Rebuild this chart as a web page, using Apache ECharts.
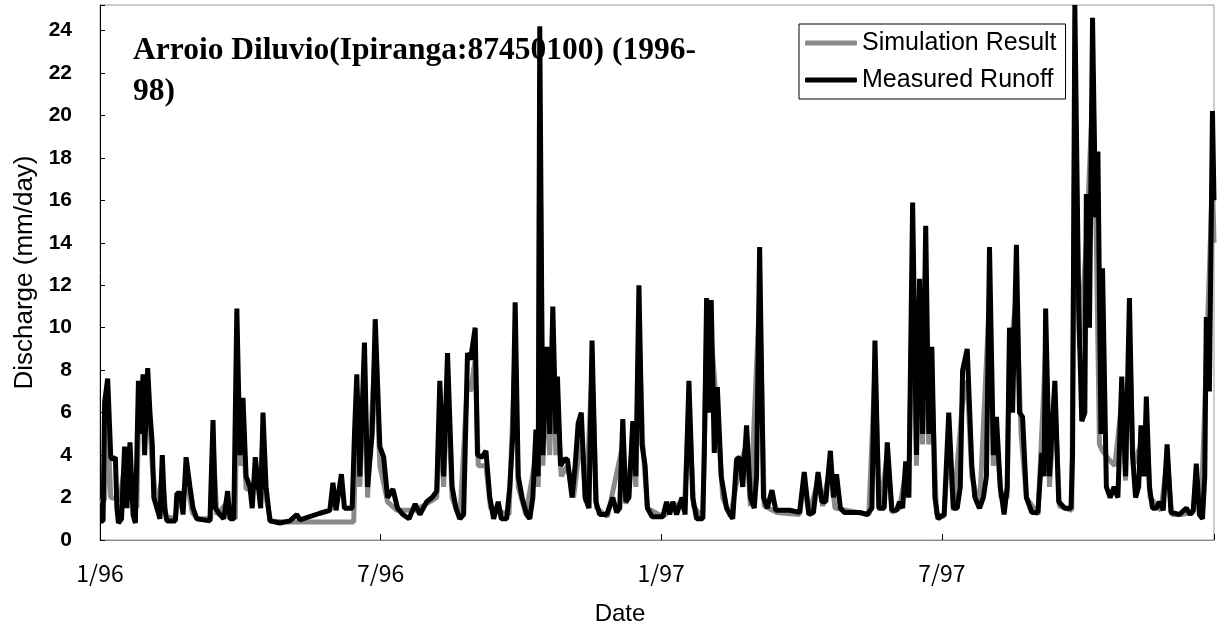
<!DOCTYPE html>
<html>
<head>
<meta charset="utf-8">
<title>Arroio Diluvio discharge</title>
<script src="https://cdn.jsdelivr.net/npm/echarts@6/dist/echarts.min.js"></script>
<style>
  html, body { margin: 0; padding: 0; background: #fff; }
  #chart { width: 1217px; height: 634px; }
</style>
</head>
<body>
<div id="chart"></div>
<script>
// x = days since 1 Jan 1996, y = discharge (mm/day)
const measured = [
  [0, 0.9], [2, 0.9], [3, 6.5], [5, 7.6], [7, 3.9], [8, 3.8], [10, 3.9], [11, 1.5], [12, 0.8],
  [14, 1.0], [16, 4.4], [17.5, 1.5], [19.5, 4.6], [21.5, 1.2], [23, 0.8],
  [25, 7.5], [26, 5.0], [28, 7.8], [29, 4.0], [31, 8.1], [32.5, 6.0], [34, 4.5], [35, 2.0],
  [37, 1.5], [39, 1.0], [40.5, 4.0], [42, 1.5], [43.5, 0.9], [49, 0.9], [50, 2.2], [52.5, 2.2],
  [54, 1.2], [56, 3.9], [58.5, 2.5], [60.5, 1.5], [63, 1.0], [71.5, 0.9], [73.5, 5.65], [75, 1.5],
  [78, 1.2], [80.5, 1.0], [83, 2.3], [84.5, 1.0], [87, 1.0], [89, 10.9], [91, 4.0], [93, 6.7],
  [95, 3.0], [97.5, 2.5], [99, 1.5], [101, 3.9], [103, 2.5], [104.5, 1.5], [106, 6.0], [108, 2.5],
  [110.5, 0.9], [117, 0.8], [123.5, 0.9], [128, 1.2], [130, 0.95], [143, 1.26], [149.5, 1.4],
  [151.5, 2.7], [153.5, 1.4], [157, 3.1], [159, 1.5], [164, 1.5], [165.5, 5.0], [167, 7.8],
  [169, 3.0], [172, 9.3], [174, 2.5], [177, 5.0], [179, 10.4], [182, 4.4], [184.5, 3.9], [187, 2.0],
  [190.5, 2.4], [193.5, 1.5], [197, 1.2], [201, 1.0], [205, 1.7], [208, 1.2], [212.5, 1.8],
  [216, 2.0], [219, 2.3], [221, 7.5], [223.5, 3.0], [226, 8.8], [229, 2.5], [231.5, 1.5], [234, 1.0],
  [236.5, 1.2], [239, 8.8], [241, 8.5], [244, 10.0], [245.5, 4.0], [248.5, 3.9], [251, 4.2],
  [253.5, 2.0], [256, 1.0], [259, 1.8], [261, 1.0], [264.5, 1.0], [266.5, 2.5], [268.5, 5.0],
  [270, 11.2], [272, 3.0], [274.5, 2.0], [277.5, 1.2], [279.5, 1.0], [281.5, 2.0], [283.5, 5.2],
  [285, 3.0], [286, 24.2], [288, 4.0], [290.5, 9.1], [292.5, 5.0], [294.5, 11.0], [296.5, 5.0],
  [297.5, 7.7], [299.5, 3.5], [302, 3.8], [304, 3.8], [307, 2.0], [309, 3.5], [311, 5.5], [313, 6.0],
  [315.5, 2.0], [318, 1.5], [320, 9.4], [322.5, 1.8], [325, 1.2], [329.5, 1.2], [333.5, 2.0],
  [336, 1.3], [338, 1.5], [340, 5.7], [342, 1.8], [344, 2.0], [346.5, 5.6], [348.5, 3.0],
  [350.5, 12.0], [352.5, 4.5], [354.5, 3.5], [356, 1.5], [359, 1.1], [366, 1.1], [368.5, 1.8],
  [370.5, 1.2], [372.5, 1.8], [375, 1.2], [378.5, 2.0], [380.5, 1.2], [383, 7.5], [385.5, 2.0],
  [388, 1.0], [392, 1.0], [393, 4.0], [394.5, 11.4], [396.5, 6.0], [397.5, 11.3], [399.5, 4.1],
  [401.5, 7.2], [404, 3.0], [407.5, 1.5], [411.5, 1.0], [414, 3.8], [416, 3.9], [418, 2.5],
  [420.5, 5.4], [423, 2.0], [425.5, 1.5], [427, 3.0], [429, 13.8], [431.5, 2.0], [434, 1.5],
  [437, 2.35], [439.5, 1.4], [448.5, 1.4], [455, 1.3], [458, 3.2], [461, 1.2], [464, 1.3],
  [467, 3.2], [469.5, 1.8], [472, 1.8], [475, 4.2], [477, 2.0], [479, 3.1], [481.5, 1.5],
  [484, 1.3], [494, 1.3], [499, 1.2], [502, 1.5], [504, 9.4], [506.5, 1.5], [510, 1.5], [512, 4.6],
  [515, 1.4], [518, 1.4], [520, 1.8], [522, 1.5], [524, 3.7], [526, 2.0], [528.5, 15.9], [531, 4.0],
  [533, 12.3], [535, 5.0], [537, 14.8], [539, 5.0], [541, 9.1], [543, 2.0], [545, 1.0], [549, 1.2],
  [552, 6.0], [555, 1.5], [557.5, 1.5], [559.5, 2.5], [561, 8.0], [564, 9.0], [567, 3.5], [569, 2.0],
  [572, 1.5], [574.5, 2.0], [576.5, 3.0], [578.5, 13.8], [581, 4.0], [583, 5.8], [585.5, 2.5],
  [588, 1.2], [590, 2.5], [591.5, 10.0], [593.5, 6.0], [596, 13.9], [598, 6.0], [600, 5.8],
  [602.5, 2.0], [606, 1.3], [610, 1.3], [612.5, 4.1], [614, 3.0], [615, 10.9], [617.5, 3.0],
  [621, 7.5], [623.5, 1.8], [627.5, 1.5], [631.5, 1.5], [632.5, 4.0], [634, 25.2], [636.5, 11.0],
  [638.5, 5.6], [640.5, 6.0], [641.5, 16.3], [643.5, 10.0], [645.5, 24.6], [647.5, 15.2],
  [649, 18.3], [651, 5.0], [652, 12.8], [654.5, 2.5], [657, 2.0], [659.5, 2.5], [662, 2.0],
  [664.5, 7.7], [667, 3.0], [669.5, 11.4], [671.5, 4.0], [673.5, 2.0], [675.5, 2.5], [677, 5.4],
  [679, 3.0], [680.5, 6.75], [682.5, 2.5], [684.5, 1.5], [687, 1.5], [689, 1.8], [691.5, 1.4],
  [694, 4.5], [696.5, 1.3], [702, 1.2], [706.5, 1.5], [709, 1.2], [711, 1.4], [713, 3.6], [715, 1.2],
  [717, 1.0], [718.5, 3.0], [719.5, 10.5], [721.5, 7.0], [723.5, 20.2], [724.5, 16.0]
];

const simulated = [
  [0, 1.8], [3, 1.9], [5, 5.5], [7, 2.0], [13, 1.9], [16, 3.5], [18, 2.0], [22, 1.9], [24, 1.5],
  [25, 5.5], [28, 6.5], [31, 7.0], [34, 3.5], [37, 1.5], [40.5, 3.0], [43, 1.1], [49, 1.0], [51, 2.0],
  [53, 1.5], [56, 3.0], [60, 1.3], [63, 1.0], [72, 1.0], [73.5, 4.5], [76, 1.2], [83, 1.8], [85, 1.1],
  [88, 1.0], [89, 9.0], [91, 3.5], [93, 5.5], [95, 2.4], [99, 2.4], [101, 2.5], [104, 2.4], [106, 5.0],
  [108, 2.0], [111, 0.9], [120, 0.85], [165, 0.85], [167, 6.5], [169, 2.5], [172, 8.0], [174, 2.0],
  [179, 9.0], [182, 3.5], [187, 1.8], [193, 1.4], [205, 1.4], [219, 2.0], [221, 6.0], [223.5, 2.5],
  [226, 7.5], [229, 2.0], [234, 1.0], [239, 7.5], [241, 7.0], [244, 8.5], [246, 3.5], [251, 3.5],
  [254, 1.5], [266, 1.2], [270, 9.0], [272, 2.5], [277, 1.2], [283.5, 4.0], [285, 2.5], [286, 20.0],
  [288, 3.5], [290.5, 7.5], [292.5, 4.0], [294.5, 9.0], [296.5, 4.0], [297.5, 6.5], [300, 3.0],
  [304, 3.5], [308, 2.0], [313, 5.0], [316, 1.8], [320, 8.0], [323, 1.5], [330, 1.1], [340, 4.5],
  [342, 1.7], [346.5, 4.5], [348.5, 2.5], [350.5, 10.0], [353, 4.5], [356, 1.5], [366, 1.1],
  [378, 1.8], [380, 1.4], [383, 6.5], [386, 1.6], [392, 1.0], [394.5, 9.5], [397.5, 9.5],
  [401.5, 6.0], [405, 2.0], [410, 1.1], [416, 3.5], [420.5, 4.5], [423, 1.6], [429, 11.5],
  [432, 1.6], [440, 1.3], [455, 1.2], [458, 2.8], [461, 1.2], [467, 2.8], [470, 1.6], [475, 3.5],
  [478, 1.5], [500, 1.2], [504, 8.0], [507, 1.4], [512, 4.0], [515, 1.3], [520, 1.5], [524, 3.2],
  [526, 2.0], [528.5, 13.0], [531, 3.5], [533, 10.0], [535, 4.5], [537, 12.0], [539, 4.5],
  [541, 7.5], [544, 1.2], [549, 1.1], [552, 5.0], [555, 1.4], [561, 6.5], [564, 7.5], [567, 3.0],
  [572, 1.5], [578.5, 11.5], [581, 3.5], [583, 5.0], [586, 2.0], [590, 2.0], [591.5, 8.5],
  [596, 11.5], [599, 5.0], [602.5, 2.0], [610, 1.2], [615, 9.0], [617.5, 2.5], [621, 6.5],
  [624, 1.6], [632, 1.4], [634, 21.0], [637, 9.0], [641.5, 14.0], [645.5, 21.0], [648, 14.0],
  [650, 4.5], [652, 4.2], [656, 3.8], [660, 3.5], [664.5, 6.5], [667, 2.8], [669.5, 9.5],
  [672, 3.5], [677, 4.5], [680.5, 5.5], [683, 2.0], [690, 1.4], [694, 3.8], [697, 1.2], [703, 1.2],
  [711, 1.3], [713, 3.0], [716, 1.1], [719.5, 8.5], [723.5, 17.0], [724.5, 14.0]
];

const xTickLabels = ['1/96', '7/96', '1/97', '7/97'];
const seriesNames = ['Simulation Result', 'Measured Runoff'];

const chart = echarts.init(document.getElementById('chart'));

chart.setOption({
  animation: false,
  title: {
    text: 'Arroio Diluvio(Ipiranga:87450100) (1996-\n98)',
    left: 133,
    top: 30,
    padding: 0,
    z: 1,
    textStyle: {
      fontFamily: 'Liberation Serif',
      fontWeight: 'bold',
      fontSize: 31.5,
      lineHeight: 41,
      color: '#000'
    }
  },
  legend: {
    orient: 'vertical',
    left: 799,
    top: 24,
    padding: [3, 9, 3, 6],
    itemWidth: 52,
    itemHeight: 5,
    itemGap: 5,
    icon: 'roundRect',
    borderColor: '#000',
    borderWidth: 1,
    backgroundColor: '#fff',
    textStyle: { fontFamily: 'Liberation Sans', fontSize: 25, lineHeight: 32, color: '#000' },
    data: seriesNames
  },
  grid: {
    left: 100, right: 2, top: 5, bottom: 94,
    show: true, borderColor: '#999', borderWidth: 1
  },
  xAxis: {
    type: 'value',
    min: 0,
    max: 724.5,
    interval: 182.5,
    name: 'Date',
    nameLocation: 'middle',
    nameGap: 62,
    nameTextStyle: { fontFamily: 'Liberation Sans', fontSize: 24, color: '#000', padding: [0, 74, 0, 0] },
    axisLine: { lineStyle: { color: '#888', width: 1 } },
    axisTick: { inside: true, length: 6, lineStyle: { color: '#000' } },
    axisLabel: {
      margin: 22,
      fontFamily: 'Noto Sans CJK JP',
      fontSize: 23,
      color: '#000',
      formatter: v => xTickLabels[Math.round(v / 182.5)] || ''
    },
    splitLine: { show: false }
  },
  yAxis: {
    type: 'value',
    min: 0,
    max: 25.2,
    interval: 2,
    name: 'Discharge (mm/day)',
    nameLocation: 'middle',
    nameGap: 62,
    nameTextStyle: { fontFamily: 'Liberation Sans', fontSize: 26, color: '#000' },
    axisLine: { show: true, lineStyle: { color: '#000', width: 1 } },
    axisTick: { show: true, inside: true, length: 5, lineStyle: { color: '#000' } },
    axisLabel: {
      margin: 28,
      fontFamily: 'Liberation Sans',
      fontWeight: 'bold',
      fontSize: 21,
      color: '#000',
      formatter: v => (v > 24 ? '' : v)
    },
    splitLine: { show: false }
  },
  series: [
    {
      name: seriesNames[0],
      type: 'line',
      data: simulated,
      symbol: 'none',
      lineStyle: { color: '#8a8a8a', width: 5 },
      itemStyle: { color: '#8a8a8a' },
      z: 2
    },
    {
      name: seriesNames[1],
      type: 'line',
      data: measured,
      symbol: 'none',
      lineStyle: { color: '#000', width: 5 },
      itemStyle: { color: '#000' },
      z: 3
    }
  ]
});
</script>
</body>
</html>
